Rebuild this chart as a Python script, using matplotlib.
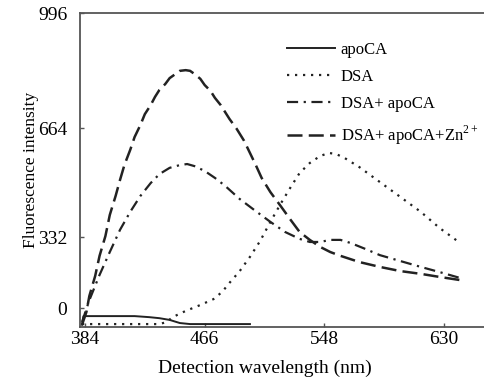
import matplotlib.pyplot as plt

plt.rcParams['font.family'] = ['Liberation Serif', 'DejaVu Serif']
plt.rcParams['mathtext.fontset'] = 'custom'
plt.rcParams['mathtext.rm'] = 'Liberation Serif'

# apoCA (solid)
x_apo = [382, 383, 394, 418, 428, 435, 442, 449, 456, 497]
y_apo = [96, 121, 121, 121, 118, 115, 110, 101, 98, 98]

# DSA (dotted)
x_dsa = [382, 408, 435, 440, 444, 453, 463, 472, 478, 483, 490, 497, 504, 511,
         518, 525, 531, 538, 545, 551, 556, 562, 572, 586, 600, 614, 627, 641]
y_dsa = [98, 98, 98, 104, 118, 136, 153, 170, 191, 217, 251, 292, 338, 393,
         445, 494, 534, 563, 583, 592, 589, 577, 551, 508, 465, 422, 375, 332]

# DSA + apoCA (dash-dot)
x_da = [382, 387, 394, 401, 408, 415, 422, 429, 435, 442, 449, 454, 459, 466,
        473, 480, 490, 501, 511, 521, 531, 538, 545, 552, 559, 566, 576, 586,
        600, 614, 627, 641]
y_da = [104, 167, 240, 306, 370, 422, 468, 505, 531, 549, 557, 560, 554, 540,
        520, 497, 459, 424, 393, 364, 344, 335, 335, 341, 341, 332, 315, 297,
        280, 263, 248, 231]

# DSA + apoCA + Zn2+ (dashed)
x_zn = [382, 385, 387, 391, 394, 398, 401, 405, 408, 411, 415, 418, 422, 425,
        429, 432, 435, 439, 442, 446, 449, 453, 456, 459, 463, 466, 470, 473,
        477, 480, 483, 488, 493, 497, 501, 505, 511, 518, 525, 531, 538, 545,
        552, 559, 572, 586, 600, 614, 627, 641]
y_zn = [96, 133, 179, 237, 295, 352, 413, 468, 514, 557, 601, 638, 673, 704,
        730, 754, 774, 791, 808, 820, 829, 831, 829, 820, 806, 788, 771, 751,
        730, 710, 690, 661, 627, 592, 557, 520, 479, 439, 398, 364, 341, 321,
        306, 295, 277, 263, 251, 243, 234, 225]

labels = ['apoCA', 'DSA', 'DSA+ apoCA', 'DSA+ apoCA+Zn$^{2+}$']
xticks = [384, 466, 548, 630]
ytick_labels = ['996', '664', '332', '0']
ytick_pos = [996, 664, 349, 144]

fig = plt.figure(figsize=(4.85, 3.83), dpi=100)
ax = fig.add_axes([80 / 485, (383 - 326.5) / 383, 405 / 485, 313.5 / 383])

ax.plot(x_apo, y_apo, color='#222222', lw=1.4, ls='-', label=labels[0], clip_on=False)
ax.plot(x_dsa, y_dsa, color='#222222', lw=1.6, ls=(0, (1, 2.6)), label=labels[1])
ax.plot(x_da, y_da, color='#222222', lw=1.6, ls=(0, (5, 2.5, 1, 2.5)), label=labels[2])
ax.plot(x_zn, y_zn, color='#222222', lw=1.8, ls=(0, (6, 2.5)), label=labels[3])

ax.set_xlim(380.6, 658)
ax.set_ylim(91, 996)
ax.set_xticks(xticks)
ax.set_yticks(ytick_pos)
ax.set_yticklabels(ytick_labels)

for s in ['left', 'bottom', 'top']:
    ax.spines[s].set_color('#555555')
    ax.spines[s].set_linewidth(1.3)
ax.spines['right'].set_visible(False)
ax.tick_params(direction='in', length=3, width=1, color='#555555',
               labelsize=14)
ax.tick_params(axis='y', pad=9)

ax.set_xlabel('Detection wavelength (nm)', fontsize=14)
ax.set_ylabel('Fluorescence intensity', fontsize=12.5)
ax.xaxis.set_label_coords((265 - 80) / 405, -0.105)
ax.yaxis.set_label_coords(-0.10, 0.5)

ax.legend(loc='upper left', bbox_to_anchor=((280 - 80) / 405, 1 - 22 / 313.5),
          frameon=False, fontsize=12, handlelength=2.9, handletextpad=0.35,
          labelspacing=0.68, borderaxespad=0)

fig.savefig('out.png', dpi=100)
